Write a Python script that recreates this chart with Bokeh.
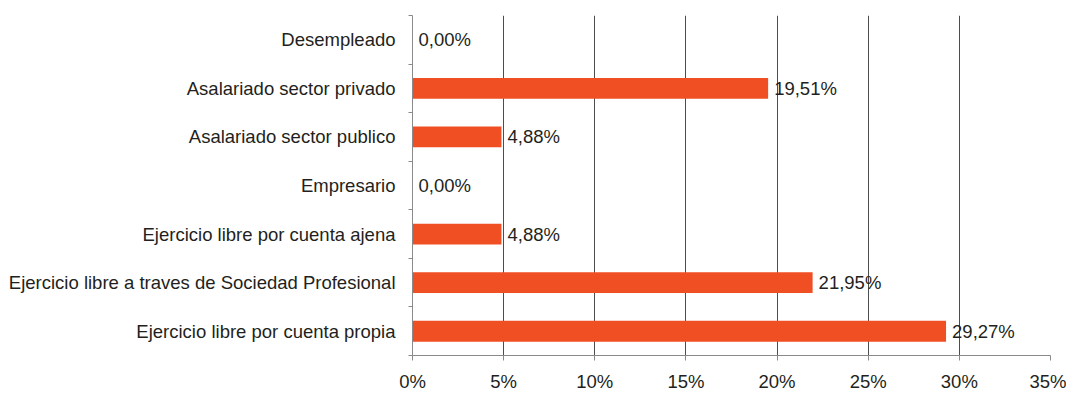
from bokeh.plotting import figure
from bokeh.models import FixedTicker, PrintfTickFormatter, ColumnDataSource, Range1d
from bokeh.core.properties import value
from bokeh.embed import file_html
from bokeh.resources import INLINE

categories = [
    "Desempleado",
    "Asalariado sector privado",
    "Asalariado sector publico",
    "Empresario",
    "Ejercicio libre por cuenta ajena",
    "Ejercicio libre a traves de Sociedad Profesional",
    "Ejercicio libre por cuenta propia",
]
values = [0.00, 19.51, 4.88, 0.00, 4.88, 21.95, 29.27]
x_ticks = [0, 5, 10, 15, 20, 25, 30, 35]

n = len(categories)
ypos = [n - i - 0.5 for i in range(n)]
labels = [("%.2f%%" % v).replace(".", ",") for v in values]

src = ColumnDataSource(dict(y=ypos, v=values, lab=labels))

FONT = "Liberation Sans"
TXT = "#231f20"
FS = "18.5px"

p = figure(width=1066, height=394, output_backend="svg", toolbar_location=None,
           x_range=Range1d(0, 35), y_range=Range1d(0, n),
           min_border_left=412, min_border_right=16, min_border_top=15, min_border_bottom=36)
p.outline_line_color = None
p.background_fill_color = "white"

p.hbar(y="y", right="v", left=0, height=0.43, source=src, color="#f04e23", line_color=None)
p.text(x="v", y="y", text="lab", source=src, x_offset=6, text_baseline="middle",
       text_align="left", text_font=value(FONT), text_font_size=FS, text_color=TXT)

# x axis
p.xaxis.ticker = FixedTicker(ticks=x_ticks)
p.xaxis.formatter = PrintfTickFormatter(format="%d%%")
p.xaxis.axis_line_color = "#8a8a8a"
p.xaxis.major_tick_line_color = "#8a8a8a"
p.xaxis.major_tick_out = 5
p.xaxis.major_tick_in = 0
p.xaxis.minor_tick_line_color = None
p.xaxis.major_label_standoff = 10
p.xaxis.major_label_text_font = FONT
p.xaxis.major_label_text_font_size = FS
p.xaxis.major_label_text_color = TXT

p.xgrid.ticker = FixedTicker(ticks=x_ticks)
p.xgrid.grid_line_color = "#4d4d4d"
p.xgrid.grid_line_width = 1
p.ygrid.grid_line_color = None

# y axis
p.yaxis.ticker = FixedTicker(ticks=ypos, minor_ticks=list(range(n + 1)))
p.yaxis.major_label_overrides = {y: c for y, c in zip(ypos, categories)}
p.yaxis.axis_line_color = "#8a8a8a"
p.yaxis.major_tick_line_color = None
p.yaxis.major_tick_out = 0
p.yaxis.major_tick_in = 0
p.yaxis.minor_tick_line_color = "#8a8a8a"
p.yaxis.minor_tick_out = 4
p.yaxis.minor_tick_in = 0
p.yaxis.major_label_standoff = 13
p.yaxis.major_label_text_font = FONT
p.yaxis.major_label_text_font_size = FS
p.yaxis.major_label_text_color = TXT

open("out.html", "w").write(file_html(p, INLINE))
